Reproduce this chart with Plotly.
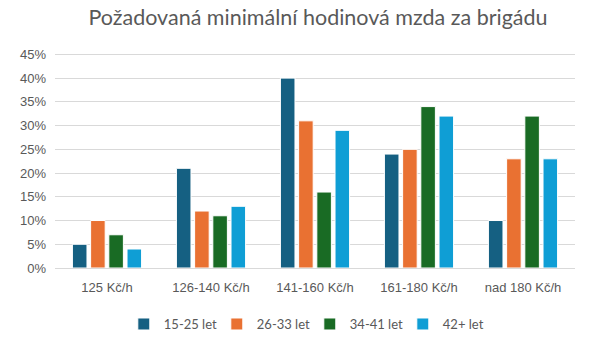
import plotly.graph_objects as go

categories = ["125 Kč/h", "126-140 Kč/h", "141-160 Kč/h", "161-180 Kč/h", "nad 180 Kč/h"]
series_names = ["15-25 let", "26-33 let", "34-41 let", "42+ let"]
v_15_25 = [5, 21, 40, 24, 10]
v_26_33 = [10, 12, 31, 25, 23]
v_34_41 = [7, 11, 16, 34, 32]
v_42 = [4, 13, 29, 32, 23]
colors = ["#156082", "#E97132", "#196B24", "#0F9ED5"]
y_ticks = [0, 5, 10, 15, 20, 25, 30, 35, 40, 45]

fig = go.Figure()
for name, vals, col in zip(series_names, [v_15_25, v_26_33, v_34_41, v_42], colors):
    fig.add_trace(go.Bar(
        x=categories, y=vals, name=name,
        marker=dict(color=col, line=dict(color="white", width=1)),
    ))

fig.update_layout(
    width=600, height=353,
    margin=dict(l=55, r=25, t=52, b=85),
    paper_bgcolor="white", plot_bgcolor="white",
    barmode="group", bargap=0.30, bargroupgap=0.2,
    title=dict(text="Požadovaná minimální hodinová mzda za brigádu",
               x=0.53, xanchor="center", y=0.95, yanchor="middle",
               font=dict(family="Lato", size=21.5, color="#595959")),
    font=dict(family="Liberation Sans", size=13, color="#595959"),
    xaxis=dict(showgrid=False, showline=True, linecolor="#D9D9D9", linewidth=1,
               ticks="", ticklabelstandoff=7,
               tickfont=dict(family="Liberation Sans", size=13, color="#595959")),
    yaxis=dict(range=[0, 45.5], tickvals=y_ticks, ticktext=[f"{t}%" for t in y_ticks],
               showgrid=True, gridcolor="#D9D9D9", gridwidth=1, zeroline=False,
               ticks="", ticklabelstandoff=8,
               tickfont=dict(family="Liberation Sans", size=13, color="#595959")),
    legend=dict(orientation="h", x=0.49, xanchor="center", y=-0.19, yanchor="top",
                font=dict(family="Lato", size=13, color="#595959"),
                entrywidth=48, entrywidthmode="pixels", itemwidth=30,
                traceorder="normal"),
)

fig.write_html("out.html")
